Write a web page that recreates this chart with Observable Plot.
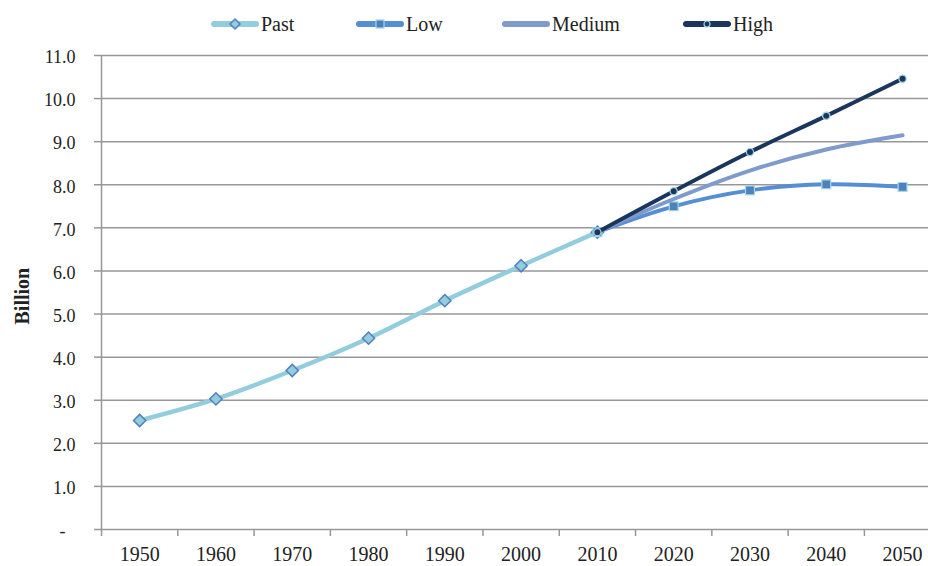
<!DOCTYPE html>
<html><head><meta charset="utf-8">
<script src="https://cdn.jsdelivr.net/npm/d3@7"></script>
<script src="https://cdn.jsdelivr.net/npm/@observablehq/plot@0.6"></script>
<style>
body{margin:0;background:#fff;font-family:"Liberation Serif",serif;}
#legend{height:40px;position:relative;}
.item{position:absolute;top:13px;display:flex;align-items:center;font-size:20px;color:#222;line-height:22px;}
.item svg{margin-right:2px;}
</style></head><body>
<div id="legend"></div>
<div id="chart"></div>
<script>
// ---- data ----
const pastYears = [1950, 1960, 1970, 1980, 1990, 2000, 2010];
const pastValues = [2.53, 3.03, 3.69, 4.44, 5.31, 6.12, 6.90];
const projYears = [2010, 2020, 2030, 2040, 2050];
const lowValues = [6.90, 7.50, 7.87, 8.01, 7.95];
const mediumValues = [6.90, 7.67, 8.33, 8.82, 9.15];
const highValues = [6.90, 7.85, 8.76, 9.60, 10.46];
const yearLabels = [1950, 1960, 1970, 1980, 1990, 2000, 2010, 2020, 2030, 2040, 2050];
const yTicks = [0, 1, 2, 3, 4, 5, 6, 7, 8, 9, 10, 11];
const seriesNames = ["Past", "Low", "Medium", "High"];

// ---- styles ----
const colors = {Past: "#93CDDD", Low: "#558ED5", Medium: "#7F9BCB", High: "#1B365D"};
const grid = "#979797";
const textColor = "#222";

const past = pastYears.map((year, i) => ({year, value: pastValues[i]}));
const low = projYears.map((year, i) => ({year, value: lowValues[i]}));
const medium = projYears.map((year, i) => ({year, value: mediumValues[i]}));
const high = projYears.map((year, i) => ({year, value: highValues[i]}));
const bounds = yearLabels.map(y => y - 5);

// ---- legend ----
const legendLeft = {Past: 211, Low: 356, Medium: 502, High: 683};
const markerSvg = {
  Past: `<path d="M24,3 L29,8 L24,13 L19,8 Z" fill="${colors.Past}" stroke="#4F81BD" stroke-width="1.5"/>`,
  Low: `<rect x="20" y="4" width="8" height="8" fill="#4F81BD" stroke="#A5D8E6" stroke-width="1.2"/>`,
  Medium: ``,
  High: `<circle cx="24" cy="8" r="3" fill="${colors.High}" stroke="#9DD3E0" stroke-width="1.2"/>`
};
const legend = document.getElementById("legend");
for (const name of seriesNames) {
  const d = document.createElement("div");
  d.className = "item";
  d.style.left = legendLeft[name] + "px";
  d.innerHTML = `<svg width="48" height="16"><line x1="3" x2="45" y1="8" y2="8" stroke="${colors[name]}" stroke-width="6" stroke-linecap="round"/>${markerSvg[name]}</svg><span>${name}</span>`;
  legend.appendChild(d);
}

// ---- chart ----
const chart = Plot.plot({
  width: 928,
  height: 526,
  marginLeft: 101,
  marginRight: 0,
  marginTop: 15,
  marginBottom: 37,
  style: {fontFamily: "Liberation Serif", color: textColor, background: "white"},
  x: {domain: [1945, 2053.4]},
  y: {domain: [0, 11]},
  marks: [
    Plot.ruleY(yTicks, {stroke: grid, strokeWidth: 1.5}),
    Plot.ruleX([1945], {y1: 0, y2: 11, stroke: grid, strokeWidth: 1.5}),
    Plot.axisX(bounds, {tickSize: 7, tickFormat: () => "", stroke: grid, strokeWidth: 1.5, label: null}),
    Plot.axisX(yearLabels, {tickSize: 0, tickPadding: 17, tickFormat: d => String(d), fontSize: 20, fill: textColor, label: null}),
    Plot.axisY(yTicks, {tickSize: 7, tickFormat: () => "", stroke: grid, strokeWidth: 1.5, label: null}),
    Plot.text(yTicks.filter(d => d > 0), {frameAnchor: "left", y: d => d, text: d => d.toFixed(1), textAnchor: "end", dx: -26, dy: 2, fontSize: 18, fill: textColor}),
    Plot.text(yTicks.filter(d => d === 0), {frameAnchor: "left", y: d => d, text: () => "-", textAnchor: "end", dx: -36, dy: 2, fontSize: 18, fill: textColor}),
    Plot.text(["Billion"], {frameAnchor: "left", dx: -79, dy: 32, rotate: -90, fontWeight: "bold", fontSize: 20, fill: textColor}),
    Plot.line(past, {x: "year", y: "value", curve: "catmull-rom", stroke: colors.Past, strokeWidth: 4.5}),
    Plot.dot(past, {x: "year", y: "value", symbol: "diamond2", r: 5.5, fill: colors.Past, stroke: "#4F81BD", strokeWidth: 1.5}),
    Plot.line(low, {x: "year", y: "value", curve: "catmull-rom", stroke: colors.Low, strokeWidth: 4}),
    Plot.dot(low, {x: "year", y: "value", symbol: "square", r: 5, fill: "#4F81BD", stroke: "#A5D8E6", strokeWidth: 1.2}),
    Plot.line(medium, {x: "year", y: "value", curve: "catmull-rom", stroke: colors.Medium, strokeWidth: 4}),
    Plot.line(high, {x: "year", y: "value", curve: "catmull-rom", stroke: colors.High, strokeWidth: 4}),
    Plot.dot(high, {x: "year", y: "value", r: 3.6, fill: colors.High, stroke: "#9DD3E0", strokeWidth: 1.3})
  ]
});
document.getElementById("chart").appendChild(chart);
</script>
</body></html>
